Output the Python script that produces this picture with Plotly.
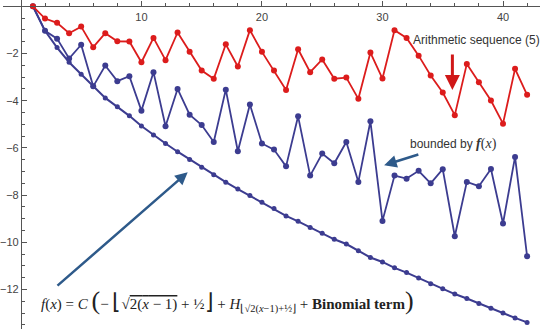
import plotly.graph_objects as go

x_vals = list(range(1, 43))

arith_seq = [0, -0.52, -0.70, -1.14, -0.86, -1.73, -1.14, -1.48, -1.49, -2.37,
             -1.34, -2.28, -1.11, -1.93, -2.72, -3.07, -1.61, -2.55, -1.01, -1.93,
             -2.72, -3.55, -1.82, -2.79, -2.25, -3.07, -3.02, -3.92, -1.96, -3.06,
             -1.01, -1.34, -2.09, -2.93, -3.65, -4.61, -2.44, -3.22, -3.99, -4.97,
             -2.65, -3.75]

bounded_seq = [0, -1.04, -1.37, -2.21, -1.63, -3.39, -2.51, -3.17, -2.96, -4.42,
               -2.79, -5.08, -3.50, -4.59, -5.03, -5.75, -3.53, -6.14, -4.16, -5.81,
               -6.07, -6.78, -4.66, -7.17, -6.24, -6.65, -5.75, -7.44, -4.87, -9.09,
               -7.17, -7.30, -6.97, -7.50, -6.90, -9.74, -7.44, -7.62, -6.89, -9.20,
               -6.38, -10.59]

bound_fx = [0, -1.04, -1.75, -2.37, -2.88, -3.39, -3.88, -4.26, -4.64, -5.07,
            -5.45, -5.81, -6.16, -6.49, -6.82, -7.14, -7.45, -7.74, -8.02, -8.30,
            -8.57, -8.88, -9.11, -9.37, -9.61, -9.87, -10.07, -10.36, -10.64, -10.83,
            -11.08, -11.28, -11.51, -11.75, -11.96, -12.19, -12.38, -12.59, -12.79, -12.99,
            -13.20, -13.39]

x_ticks = [10, 20, 30, 40]
y_ticks = [-12, -10, -8, -6, -4, -2]
x_minor = [v for v in range(2, 44, 2)]
y_minor = [v * 0.5 for v in range(-27, 0)]

RED = "#dc1c1c"
BLUE = "#3c3c90"
ARROW_BLUE = "#2e5a8a"

fig = go.Figure()
fig.add_trace(go.Scatter(x=x_vals, y=bound_fx, mode="lines+markers",
                         line=dict(color=BLUE, width=2), marker=dict(color=BLUE, size=5)))
fig.add_trace(go.Scatter(x=x_vals, y=bounded_seq, mode="lines+markers",
                         line=dict(color=BLUE, width=1.8), marker=dict(color=BLUE, size=6)))
fig.add_trace(go.Scatter(x=x_vals, y=arith_seq, mode="lines+markers",
                         line=dict(color=RED, width=1.8), marker=dict(color=RED, size=6)))

y_lo, y_hi = -13.67, 0.267
x_lo, x_hi = -1.485, 43.07

fig.update_layout(
    width=540, height=329,
    margin=dict(l=0, r=0, t=0, b=0),
    paper_bgcolor="white", plot_bgcolor="white",
    showlegend=False,
    font=dict(family="Liberation Sans, Arial, sans-serif", size=11, color="#444"),
    xaxis=dict(range=[x_lo, x_hi], domain=[0, 1], anchor="free",
               position=(0 - y_lo) / (y_hi - y_lo), side="bottom",
               showgrid=False, zeroline=False, showline=True, linecolor="#555", linewidth=1,
               tickmode="array", tickvals=x_ticks, ticks="inside", ticklen=5, tickcolor="#555",
               minor=dict(tickmode="array", tickvals=x_minor, ticks="inside", ticklen=3, tickcolor="#555"),
               tickfont=dict(size=11, color="#444")),
    yaxis=dict(range=[y_lo, y_hi], domain=[0, 1], anchor="free",
               position=(0 - x_lo) / (x_hi - x_lo), side="left",
               showgrid=False, zeroline=False, showline=True, linecolor="#555", linewidth=1,
               tickmode="array", tickvals=y_ticks, ticktext=["\u221212", "\u221210", "\u22128", "\u22126", "\u22124", "\u22122"],
               ticks="inside", ticklen=5, tickcolor="#555",
               minor=dict(tickmode="array", tickvals=y_minor, ticks="inside", ticklen=3, tickcolor="#555"),
               tickfont=dict(size=11, color="#444")),
)

# arrows
fig.add_annotation(x=35.8, y=-3.55, ax=35.8, ay=-1.98, xref="x", yref="y", axref="x", ayref="y",
                   text="", showarrow=True, arrowhead=2, arrowsize=1, arrowwidth=3, arrowcolor="#d01818")
fig.add_annotation(x=30.14, y=-6.73, ax=33.1, ay=-6.26, xref="x", yref="y", axref="x", ayref="y",
                   text="", showarrow=True, arrowhead=2, arrowsize=1, arrowwidth=2.5, arrowcolor=ARROW_BLUE)
fig.add_annotation(x=13.84, y=-7.03, ax=2.91, ay=-11.89, xref="x", yref="y", axref="x", ayref="y",
                   text="", showarrow=True, arrowhead=2, arrowsize=1, arrowwidth=2.5, arrowcolor=ARROW_BLUE)

# text labels
fig.add_annotation(x=37.8, y=-1.44, xref="x", yref="y", showarrow=False,
                   text="Arithmetic sequence (5)",
                   font=dict(family="Liberation Sans, Arial, sans-serif", size=12, color="#333"))
fig.add_annotation(x=35.9, y=-5.84, xref="x", yref="y", showarrow=False,
                   text=("bounded by <span style='font-family:Liberation Serif, serif;font-size:14px'>"
                         "<i><b>f</b></i>(<i>x</i>)</span>"),
                   font=dict(family="Liberation Sans, Arial, sans-serif", size=12, color="#333"))

formula = ("<i>f</i>(<i>x</i>) = <i>C</i> <span style='font-size:26px'>(</span>\u2212 "
           "<span style='font-size:22px'>\u230a</span>\u221a<span style='text-decoration:overline'>2(<i>x</i> \u2212 1)</span>"
           " + \u00bd<span style='font-size:22px'>\u230b</span> + <i>H</i>"
           "<sub>\u230a\u221a2(<i>x</i>\u22121)+\u00bd\u230b</sub> + <b>Binomial term</b>"
           "<span style='font-size:26px'>)</span>")
fig.add_annotation(x=17.1, y=-12.45, xref="x", yref="y", showarrow=False, text=formula,
                   font=dict(family="Liberation Serif, Times New Roman, serif", size=15, color="#222"))

fig.write_html("out.html")
